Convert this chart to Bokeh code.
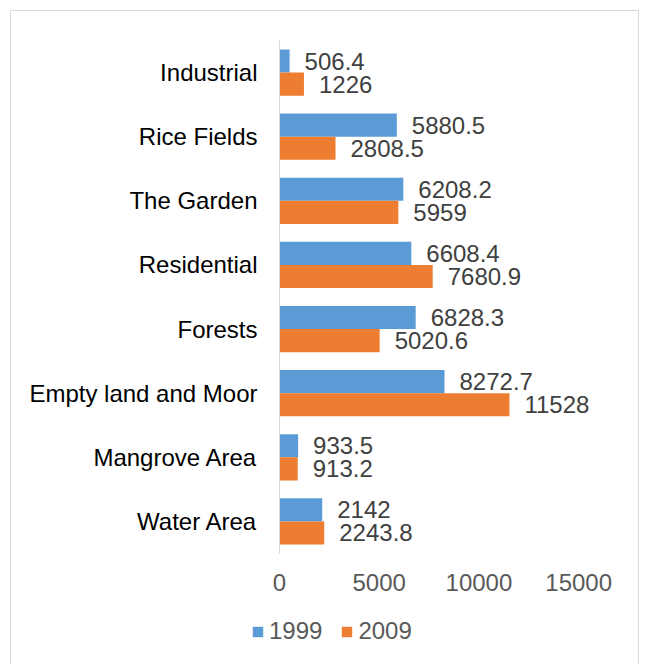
from bokeh.plotting import figure
from bokeh.models import ColumnDataSource, Range1d, FactorRange, FixedTicker, Legend, LegendItem
from bokeh.transform import dodge
from bokeh.core.properties import value
from bokeh.embed import file_html
from bokeh.resources import INLINE

categories = ["Industrial", "Rice Fields", "The Garden", "Residential", "Forests",
              "Empty land and Moor", "Mangrove Area", "Water Area"]
series_1999 = [506.4, 5880.5, 6208.2, 6608.4, 6828.3, 8272.7, 933.5, 2142]
series_2009 = [1226, 2808.5, 5959, 7680.9, 5020.6, 11528, 913.2, 2243.8]
x_ticks = [0, 5000, 10000, 15000]
series_names = ["1999", "2009"]

FONT = "Liberation Sans"
BLUE = "#5b9bd5"
ORANGE = "#ed7d31"

src = ColumnDataSource(dict(
    cat=categories,
    v1999=series_1999,
    v2009=series_2009,
    t1999=[f"{v:g}" for v in series_1999],
    t2009=[f"{v:g}" for v in series_2009],
))

p = figure(width=629, height=602, output_backend="svg", toolbar_location=None,
           x_range=Range1d(0, 18000), y_range=FactorRange(*categories[::-1], range_padding=0),
           min_border_left=268, min_border_right=2, min_border_top=29, min_border_bottom=60)
p.styles = {"margin-left": "10px", "margin-top": "10px", "border": "1px solid #d9d9d9",
            "border-bottom": "none"}
p.outline_line_color = None
p.xgrid.grid_line_color = None
p.ygrid.grid_line_color = None

p.hbar(y=dodge("cat", 0.18, range=p.y_range), right="v1999", left=0, height=0.36,
       source=src, fill_color=BLUE, line_color=None)
p.hbar(y=dodge("cat", -0.18, range=p.y_range), right="v2009", left=0, height=0.36,
       source=src, fill_color=ORANGE, line_color=None)

for col, off in (("1999", 0.18), ("2009", -0.18)):
    p.text(x="v" + col, y=dodge("cat", off, range=p.y_range), text="t" + col, source=src,
           x_offset=15, text_align="left", text_baseline="middle",
           text_font=value(FONT), text_font_size="24px", text_color="#404040")

xa = p.xaxis[0]
xa.ticker = FixedTicker(ticks=x_ticks)
xa.axis_line_color = None
xa.major_tick_line_color = None
xa.minor_tick_line_color = None
xa.major_label_text_font = FONT
xa.major_label_text_font_size = "24px"
xa.major_label_text_color = "#595959"
xa.major_label_standoff = 14

ya = p.yaxis[0]
ya.axis_line_color = "#d9d9d9"
ya.major_tick_line_color = None
ya.minor_tick_line_color = None
ya.major_label_text_font = FONT
ya.major_label_text_font_size = "24px"
ya.major_label_text_color = "#000000"
ya.major_label_standoff = 16

# legend strip (separate root so its frame spans the whole strip);
# its bars lie to the right of its visible x range, so only the legend shows
pl = figure(width=629, height=60, output_backend="svg", toolbar_location=None,
            x_range=Range1d(-30000, -20000), y_range=Range1d(0, 20000),
            x_axis_location=None, y_axis_location=None, min_border=0)
pl.styles = {"margin-left": "10px", "border": "1px solid #d9d9d9", "border-top": "none"}
pl.outline_line_color = None
pl.xgrid.grid_line_color = None
pl.ygrid.grid_line_color = None
l1 = pl.hbar(y="v1999", right="v1999", left=0, height=1, source=src,
             fill_color=BLUE, line_color=None)
l2 = pl.hbar(y="v2009", right="v2009", left=0, height=1, source=src,
             fill_color=ORANGE, line_color=None)

legend = Legend(items=[LegendItem(label=series_names[0], renderers=[l1]),
                       LegendItem(label=series_names[1], renderers=[l2])],
                orientation="horizontal", location=(240, 27),
                glyph_width=13, glyph_height=13, label_text_font=FONT,
                label_text_font_size="24px", label_text_color="#595959",
                border_line_color=None, background_fill_alpha=0,
                spacing=18, label_standoff=5, padding=0, margin=0)
pl.add_layout(legend, "center")

open("out.html", "w").write(file_html([p, pl], INLINE))
